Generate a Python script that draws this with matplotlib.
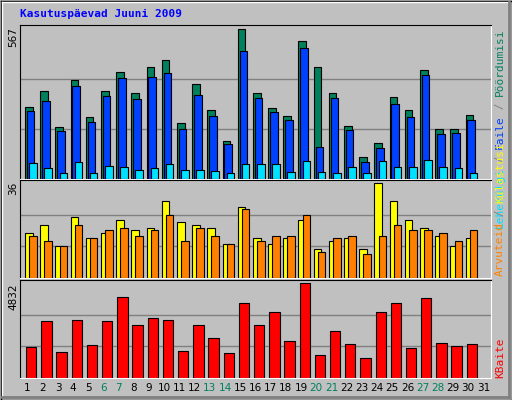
import matplotlib
matplotlib.use("Agg")
import matplotlib.pyplot as plt
from matplotlib.lines import Line2D

days = list(range(1, 32))
hits = [274,332,199,375,236,332,405,325,425,452,213,359,263,144,567,328,271,240,525,425,328,201,82,136,312,263,413,190,190,244]
files = [259,294,182,351,217,313,382,305,386,402,190,317,240,132,486,309,255,224,498,121,309,186,63,117,286,236,394,171,174,224]
pages = [59,41,24,63,24,51,44,36,40,55,36,36,32,21,55,55,55,28,67,28,24,47,21,67,47,47,71,44,40,24]
visits = [17,20,12,23,15,17,22,18,19,29,21,20,19,13,27,15,13,15,22,11,14,15,11,36,29,22,19,16,12,15]
sites = [16,14,12,20,15,18,19,16,18,24,14,19,16,13,26,14,16,16,24,10,15,16,9,16,20,18,18,17,14,18]
kbytes = [1552,2875,1341,2928,1658,2875,4092,2717,3034,2928,1393,2717,2029,1288,3827,2717,3352,1870,4832,1182,2399,1711,1023,3352,3827,1499,4039,1764,1605,1711]
weekend = [6,7,13,14,20,21,27,28]

BG = "#C0C0C0"
fig = plt.figure(figsize=(5.12, 4.0), dpi=100, facecolor=BG)
W, H = 512, 400

def ax_at(x0, y0, x1, y1):
    ax = fig.add_axes([x0/W, 1-y1/H, (x1-x0)/W, (y1-y0)/H])
    ax.set_facecolor(BG)
    ax.set_xlim(0, 31)
    for s in ("left", "top"):
        ax.spines[s].set_color("black")
    for s in ("right", "bottom"):
        ax.spines[s].set_color("white")
    ax.set_xticks([]); ax.set_yticks([])
    return ax

def grid(ax, m):
    for f in (1/3, 2/3):
        ax.axhline(m*f, color="#808080", lw=1, zorder=0)

n = len(hits)
xs = [d-1 for d in days[:n]]

a1 = ax_at(20, 25, 491, 179)
m1 = max(hits)
a1.set_ylim(0, m1*1.03)
grid(a1, m1*1.0)
a1.bar([x+0.33 for x in xs], hits, 0.5, align="edge", color="#00805C", edgecolor="black", lw=0.8, zorder=2)
a1.bar([x+0.45 for x in xs], files, 0.5, align="edge", color="#0040FF", edgecolor="black", lw=0.8, zorder=3)
a1.bar([x+0.6 for x in xs], pages, 0.5, align="edge", color="#00E0FF", edgecolor="black", lw=0.8, zorder=4)

a2 = ax_at(20, 180, 491, 278)
m2 = max(visits)
a2.set_ylim(0, m2*1.03)
grid(a2, m2)
a2.bar([x+0.33 for x in xs], visits, 0.5, align="edge", color="#FFFF00", edgecolor="black", lw=0.8, zorder=2)
a2.bar([x+0.6 for x in xs], sites, 0.5, align="edge", color="#FF8000", edgecolor="black", lw=0.8, zorder=3)

a3 = ax_at(20, 280, 491, 378)
m3 = max(kbytes)
a3.set_ylim(0, m3*1.03)
grid(a3, m3)
a3.bar([x+0.4 for x in xs], kbytes, 0.68, align="edge", color="#FF0000", edgecolor="black", lw=0.8, zorder=2)

# x labels
for d in days:
    col = "#00805C" if d in weekend else "black"
    fig.text((20 + (d-0.5)*471/31)/W, 1-388/H, str(d), ha="center", va="center", fontsize=7.5, color=col)

# y max labels
for m, ytop in ((m1, 27), (m2, 182), (m3, 283)):
    fig.text(13/W, 1-ytop/H, str(m), rotation=90, ha="center", va="top", fontsize=7.5)

fig.text(20/W, 1-14/H, "Kasutuspäevad Juuni 2009", color="#0000FF", fontweight="bold",
         family="DejaVu Sans Mono", fontsize=8, ha="left", va="center")

CW = 6.6
def vlabel(parts, ybottom):
    y = ybottom
    for txt, col in parts:
        fig.text(500/W, 1-y/H, txt, rotation=90, ha="center", va="bottom", color=col,
                 family="DejaVu Sans Mono", fontsize=8)
        y -= CW*len(txt)

vlabel([("Lehekülgi", "#00E0FF"), (" / ", "#808080"), ("Faile", "#0040FF"), (" / ", "#808080"), ("Pöördumisi", "#00805C")], 228)
vlabel([("Arvuteid", "#FF8000"), (" / ", "#808080"), ("Külastusi", "#FFFF00")], 276)
vlabel([("KBaite", "#FF0000")], 378)

# frame bevel
def fl(x0, y0, x1, y1, c, lw=1):
    fig.add_artist(Line2D([x0/W, x1/W], [1-y0/H, 1-y1/H], color=c, lw=lw, transform=fig.transFigure))
fl(0.5, 0.5, 511.5, 0.5, "black"); fl(0.5, 0.5, 0.5, 399.5, "black")
fl(511.5, 0.5, 511.5, 399.5, "black"); fl(0.5, 399.5, 511.5, 399.5, "black")
fl(2, 2, 509, 2, "white"); fl(2, 2, 2, 397, "white")
fl(509, 2, 509, 397, "#808080", 2); fl(2, 397, 509, 397, "#808080", 2)

fig.savefig("out.png", dpi=100, facecolor=BG)
